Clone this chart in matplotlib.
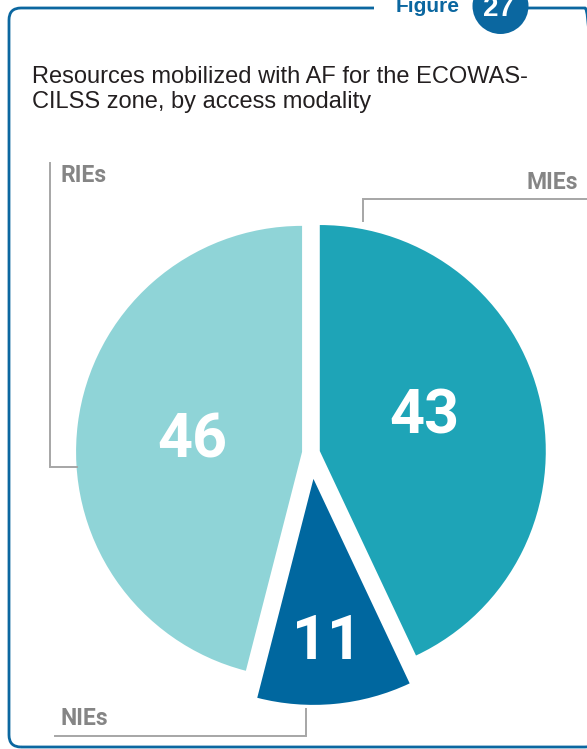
import matplotlib
matplotlib.use("Agg")
import matplotlib.pyplot as plt
from matplotlib.patches import FancyBboxPatch, Circle, Rectangle

# ---- data ----
categories = ["MIEs", "NIEs", "RIEs"]
values = [43, 11, 46]
value_labels = ["43", "11", "46"]
colors = ["#1ea4b7", "#00679f", "#8fd4d7"]
title = "Resources mobilized with AF for the ECOWAS-\nCILSS zone, by access modality"
figure_word = "Figure"
figure_number = "27"

W, H = 587, 749
BLUE = "#0b67a0"
GREY_TXT = "#858585"
GREY_LINE = "#a6a6a6"

fig = plt.figure(figsize=(W / 100, H / 100), dpi=100)
ax = fig.add_axes([0, 0, 1, 1])


def Y(y):
    return H - y


# pie
ax.pie(values, colors=colors, startangle=90, counterclock=False,
       explode=[9, 26, 9], radius=226, center=(311, Y(453)),
       wedgeprops=dict(linewidth=0), frame=True)
ax.set_xlim(0, W)
ax.set_ylim(0, H)
ax.set_aspect("auto")
ax.axis("off")

num_font = ["Liberation Sans Narrow", "Roboto", "DejaVu Sans"]
lab_font = ["Liberation Sans Narrow", "Roboto", "DejaVu Sans"]
reg_font = ["Liberation Sans", "DejaVu Sans"]

# value labels
num_pos = {"MIEs": (424, 416), "NIEs": (327, 642), "RIEs": (192, 440)}
for cat, lab in zip(categories, value_labels):
    x, y = num_pos[cat]
    ax.text(x, Y(y), lab, ha="center", va="center", color="white",
            fontsize=44, fontweight="bold", family=num_font)

# frame
frame = FancyBboxPatch((9, Y(747)), 588, 739,
                       boxstyle="round,pad=0,rounding_size=12",
                       fill=False, ec=BLUE, lw=2.0)
ax.add_patch(frame)
ax.add_patch(Rectangle((374, Y(16)), 100, 16, fc="white", ec="none"))
ax.add_patch(Circle((500.5, Y(6)), 28, fc=BLUE, ec="none"))
ax.text(396, Y(12), figure_word, ha="left", va="baseline", color=BLUE,
        fontsize=15, fontweight="bold", family=reg_font)
ax.text(499, Y(16), figure_number, ha="center", va="baseline", color="white",
        fontsize=20, fontweight="bold", family=reg_font)

# title
ax.text(32, Y(108), title, ha="left", va="baseline", color="#231f20",
        fontsize=17, family=reg_font, linespacing=1.15)

# category labels + leader lines
ax.text(60, Y(182), "RIEs", ha="left", va="baseline", color=GREY_TXT,
        fontsize=16.5, fontweight="bold", family=lab_font)
ax.plot([50, 50, 77], [Y(163), Y(467), Y(467)], color=GREY_LINE, lw=1.4,
        solid_joinstyle="miter")

ax.text(578, Y(189), "MIEs", ha="right", va="baseline", color=GREY_TXT,
        fontsize=16.5, fontweight="bold", family=lab_font)
ax.plot([363, 363, 590], [Y(221), Y(199), Y(199)], color=GREY_LINE, lw=1.4,
        solid_joinstyle="miter")

ax.text(60, Y(725), "NIEs", ha="left", va="baseline", color=GREY_TXT,
        fontsize=16.5, fontweight="bold", family=lab_font)
ax.plot([55, 306, 306], [Y(736), Y(736), Y(709)], color=GREY_LINE, lw=1.4,
        solid_joinstyle="miter")

fig.savefig("out.png", dpi=100, facecolor="white")
